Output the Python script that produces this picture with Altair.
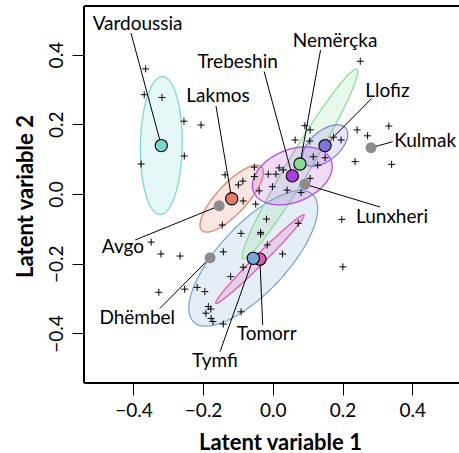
import altair as alt
import numpy as np
import pandas as pd

# ---- individual specimens (+) ----
pts_x = [-0.365, -0.369, -0.318, -0.255, -0.206, -0.378, -0.254, -0.137, -0.099, -0.086,
         -0.053, -0.053, -0.085, -0.049, -0.145, -0.018, 0.073, 0.198, -0.013, 0.009,
         0.018, 0.030, -0.001, 0.041, -0.039, 0.081, 0.107, 0.064, 0.092, 0.107,
         0.106, 0.116, 0.150, 0.129, 0.174, 0.196, 0.242, 0.272, 0.333, 0.236,
         0.341, 0.251, -0.091, -0.035, -0.035, -0.016, 0.028, -0.142, -0.085, -0.121,
         -0.253, -0.217, -0.195, -0.266, -0.321, -0.349, -0.327, -0.185, -0.178, -0.192,
         -0.177, -0.172, -0.142, -0.091, 0.201]
pts_y = [0.359, 0.285, 0.277, 0.209, 0.198, 0.086, 0.109, 0.055, 0.026, 0.037,
         0.077, 0.050, -0.020, -0.029, -0.089, -0.072, -0.084, -0.073, 0.057, 0.057,
         0.075, 0.069, 0.021, 0.011, 0.009, 0.004, 0.045, 0.155, 0.196, 0.184,
         0.152, 0.107, 0.104, 0.083, 0.163, 0.155, 0.184, 0.167, 0.195, 0.093,
         0.085, 0.381, -0.113, -0.115, -0.110, -0.146, -0.172, -0.166, -0.210, -0.237,
         -0.273, -0.268, -0.280, -0.178, -0.172, -0.138, -0.282, -0.323, -0.330, -0.342,
         -0.357, -0.366, -0.373, -0.338, -0.209]

# ---- population means ----
groups = ["Avgo", "Dhëmbel", "Kulmak", "Lunxheri", "Vardoussia", "Lakmos",
          "Nemërçka", "Trebeshin", "Llofiz", "Tomorr", "Tymfi"]
mean_x = [-0.154, -0.180, 0.282, 0.092, -0.320, -0.118, 0.078, 0.056, 0.150, -0.037, -0.056]
mean_y = [-0.034, -0.183, 0.133, 0.028, 0.139, -0.0135, 0.086, 0.052, 0.139, -0.187, -0.1845]
mean_col = ["#8c8c8c", "#8c8c8c", "#8c8c8c", "#8c8c8c", "#7dd6cc", "#e07b68",
            "#86dc92", "#a93fdc", "#7d74d6", "#e05aaa", "#7aa6d8"]

# ---- labels and leader-line starts ----
lab_x = [-0.430, -0.389, 0.437, 0.342, -0.388, -0.157, 0.1785, -0.101, 0.329, -0.0175, -0.166]
lab_y = [-0.168, -0.373, 0.1357, -0.0832, 0.4706, 0.2654, 0.4227, 0.3616, 0.279, -0.419, -0.495]
lead_x = [-0.395, -0.3237, 0.344, 0.3076, -0.407, -0.163, 0.137, -0.025, 0.284, -0.029, -0.1515]
lead_y = [-0.132, -0.328, 0.150, -0.0373, 0.462, 0.2525, 0.413, 0.3515, 0.2746, -0.376, -0.4525]

# ---- ellipses (centred on the means) ----
ell_groups = ["Vardoussia", "Lakmos", "Tymfi", "Nemërçka", "Tomorr", "Llofiz", "Trebeshin"]
ell_a = [0.198, 0.125, 0.250, 0.317, 0.179, 0.0775, 0.120]
ell_b = [0.060, 0.043, 0.0976, 0.033, 0.0145, 0.042, 0.075]
ell_ang = [89, 47, 47, 59, 45, 40.5, 22.6]
ell_col = ["#7fd9d0", "#e2836f", "#7ba6d6", "#8edc9c", "#e25bb3", "#8585e0", "#b24de0"]

x_dom = [-0.5418, 0.5343]
y_dom = [-0.5423, 0.5395]
W, H = 375, 377
FONT = "Lato"

xs = alt.Scale(domain=x_dom, nice=False, zero=False)
ys = alt.Scale(domain=y_dom, nice=False, zero=False)

x_axis = alt.Axis(
    values=[-0.4, -0.2, 0.0, 0.2, 0.4], format=".1f", grid=False, domain=False,
    tickSize=12, tickColor="black", tickWidth=1,
    labelFont=FONT, labelFontSize=19, labelColor="black", labelPadding=21,
    labelBaseline="alphabetic", labelFlush=False,
    title="Latent variable 1", titleFont=FONT, titleFontSize=22, titleFontWeight="bold",
    titleColor="black", titleX=196, titleY=66, titleBaseline="alphabetic", titleAlign="center")
y_axis = alt.Axis(
    values=[-0.4, -0.2, 0.0, 0.2, 0.4], format=".1f", grid=False, domain=False,
    tickSize=12, tickColor="black", tickWidth=1,
    labelFont=FONT, labelFontSize=19, labelColor="black", labelPadding=10,
    labelAngle=270, labelAlign="center", labelBaseline="alphabetic", labelFlush=False,
    title="Latent variable 2", titleFont=FONT, titleFontSize=22, titleFontWeight="bold",
    titleColor="black", titleAngle=270, titleX=-52, titleY=190,
    titleBaseline="alphabetic", titleAlign="center")


def X(f):
    return alt.X(f, scale=xs, axis=x_axis)


def Y(f):
    return alt.Y(f, scale=ys, axis=y_axis)


def ellipse_df(cx, cy, a, b, ang, n=160):
    t = np.radians(ang)
    c, s = np.cos(t), np.sin(t)
    w = np.sqrt(a**2 * c**2 + b**2 * s**2)
    u = np.linspace(0, np.pi, n)
    xx = cx - w * np.cos(u)
    dx = xx - cx
    A = s**2 / a**2 + c**2 / b**2
    B = 2 * dx * c * s * (1 / a**2 - 1 / b**2)
    C = dx**2 * (c**2 / a**2 + s**2 / b**2) - 1
    disc = np.clip(B**2 - 4 * A * C, 0, None)
    y1 = cy + (-B + np.sqrt(disc)) / (2 * A)
    y2 = cy + (-B - np.sqrt(disc)) / (2 * A)
    return pd.DataFrame({"x": xx, "y": y1, "y2": y2})


layers = []
for g, a, b, ang, col in zip(ell_groups, ell_a, ell_b, ell_ang, ell_col):
    i = groups.index(g)
    d = ellipse_df(mean_x[i], mean_y[i], a, b, ang)
    layers.append(
        alt.Chart(d).mark_area(fill=col, fillOpacity=0.2, stroke=col, strokeWidth=1.3)
        .encode(x=X("x:Q"), y=Y("y:Q"), y2="y2:Q")
    )

pts = pd.DataFrame({"x": pts_x, "y": pts_y})
points = alt.Chart(pts).mark_point(
    shape="M-1,0L1,0M0,-1L0,1", size=49, filled=False, stroke="black", strokeWidth=1, opacity=1
).encode(x=X("x:Q"), y=Y("y:Q"))

means = pd.DataFrame({"g": groups, "x": mean_x, "y": mean_y, "col": mean_col,
                      "lx": lab_x, "ly": lab_y, "sx": lead_x, "sy": lead_y})
means["gray"] = means["col"] == "#8c8c8c"

leaders = alt.Chart(means).mark_rule(color="black", strokeWidth=1).encode(
    x=X("sx:Q"), y=Y("sy:Q"), x2="x:Q", y2="y:Q")

gray_pts = alt.Chart(means[means["gray"]]).mark_point(
    shape="circle", filled=True, size=121, opacity=1, strokeWidth=0).encode(
    x=X("x:Q"), y=Y("y:Q"), fill=alt.Fill("col:N", scale=None))

col_pts = alt.Chart(means[~means["gray"]]).mark_point(
    shape="circle", filled=True, size=150, opacity=1, stroke="black", strokeWidth=1.1).encode(
    x=X("x:Q"), y=Y("y:Q"), fill=alt.Fill("col:N", scale=None))

labels = alt.Chart(means).mark_text(
    font=FONT, fontSize=19, color="black", align="center", baseline="alphabetic").encode(
    x=X("lx:Q"), y=Y("ly:Q"), text="g:N")

frame_top = alt.Chart(pts).mark_rule(color="black", strokeWidth=1.2).encode(
    x=alt.value(0), x2=alt.value(W), y=alt.value(0))
frame_left = alt.Chart(pts).mark_rule(color="black", strokeWidth=1.2).encode(
    x=alt.value(0), y=alt.value(0), y2=alt.value(H))
frame_bottom = alt.Chart(pts).mark_rule(color="black", strokeWidth=1.2).encode(
    x=alt.value(0), x2=alt.value(W), y=alt.value(H))

chart = alt.layer(
    *layers, points, leaders, gray_pts, col_pts, labels,
    frame_top, frame_left, frame_bottom
).properties(
    width=W, height=H,
    background="white",
    autosize=alt.AutoSizeParams(type="none"),
    padding={"left": 84, "top": 6, "right": 0, "bottom": 70},
).configure_view(stroke=None)

chart.save("out.html", embed_options={"renderer": "svg", "actions": False})
